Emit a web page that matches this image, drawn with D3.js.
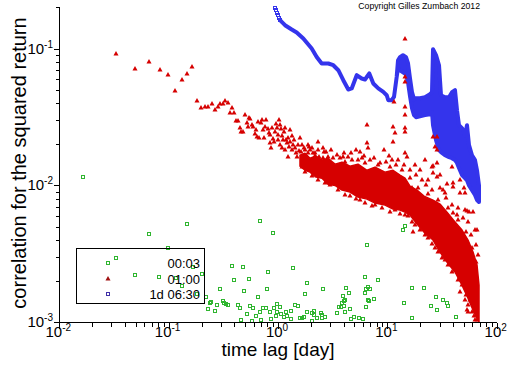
<!DOCTYPE html>
<html><head><meta charset="utf-8">
<script src="https://cdn.jsdelivr.net/npm/d3@7"></script>
<style>body{margin:0;background:#fff}svg{display:block}text{font-family:"Liberation Sans",Arial,sans-serif}</style>
</head><body><svg id="c" width="512" height="366"></svg>
<script>
// ---- data (time lag in days, correlation) ----
const xTickExp = [-2, -1, 0, 1, 2];
const yTickExp = [-3, -2, -1];
const legendLabels = ["00:03", "01:00", "1d 06:30"];

const greenPts = [[0.0165,0.0115],[0.147,0.00522],[0.0661,0.00441],[0.685,0.00549],[0.900,0.00449],[0.0987,0.00349],[0.0330,0.00295],[0.167,0.00253],[0.0492,0.00221],[0.0816,0.00214],[0.117,0.00211],[0.202,0.00225],[0.1325,0.00184],[0.182,0.00161],[0.220,0.00153],[0.244,0.00141],[0.277,0.00134],[0.314,0.00143],[0.335,0.00136],[0.349,0.00134],[0.380,0.00258],[0.479,0.00253],[0.396,0.00204],[0.543,0.00207],[0.295,0.00175],[0.489,0.00169],[0.656,0.00153],[0.810,0.00233],[0.793,0.00175],[1.371,0.00249],[1.841,0.00194],[1.766,0.00161],[0.431,0.00134],[0.449,0.00127],[0.555,0.00132],[0.591,0.00127],[0.729,0.00127],[0.777,0.00127],[0.979,0.00136],[1.043,0.00129],[0.919,0.00127],[1.430,0.00134],[1.524,0.00132],[0.229,0.00125],[0.265,0.00121],[0.685,0.00119],[0.521,0.00115],[0.629,0.00111],[0.459,0.00104],[0.578,0.00102],[0.699,0.00104],[0.845,0.00119],[0.979,0.00119],[1.065,0.00115],[0.959,0.00111],[0.863,0.00106],[1.184,0.00119],[1.209,0.00111],[1.135,0.00109],[1.315,0.00121],[1.315,0.00106],[1.589,0.00107],[1.658,0.00107],[1.729,0.00109],[1.841,0.00119],[2.046,0.00117],[2.134,0.00121],[2.134,0.00113],[2.046,0.00102],[2.473,0.00117],[2.526,0.00113],[2.526,0.00107],[2.691,0.00109],[2.273,0.00107],[2.579,0.00175],[3.464,0.00117],[3.613,0.00129],[3.768,0.00129],[3.848,0.00138],[4.013,0.00143],[4.099,0.00119],[4.187,0.00178],[4.461,0.00164],[3.930,0.00156],[4.099,0.00145],[4.013,0.00132],[4.554,0.00125],[4.955,0.00109],[5.505,0.00107],[5.988,0.00106],[4.651,0.00106],[6.379,0.00129],[6.795,0.00143],[6.246,0.00214],[8.215,0.00204],[6.652,0.00181],[6.938,0.00175],[6.379,0.00175],[6.246,0.00164],[6.652,0.00145],[7.549,0.00148],[14.50,0.00504],[13.90,0.00472],[6.514,0.00367],[16.80,0.00178],[21.63,0.00178],[14.20,0.00138],[27.87,0.00153],[32.29,0.00145],[35.12,0.00138],[35.86,0.00132],[25.07,0.00132],[28.46,0.00123],[16.80,0.00107],[42.45,0.00109],[0.239,0.00138],[0.321,0.00138]];

const redPts = [[0.033,0.0909],[0.0495,0.0706],[0.066,0.0794],[0.0825,0.0694],[0.099,0.0638],[0.1155,0.0488],[0.132,0.0587],[0.1485,0.0649],[0.165,0.0730],[0.1815,0.0412],[0.198,0.0367],[0.2145,0.0373],[0.231,0.0373],[0.2475,0.0392],[0.264,0.0354],[0.2805,0.0373],[0.297,0.0392],[0.3135,0.0392],[0.33,0.0412],[0.3465,0.0399],[0.363,0.0337],[0.3795,0.0367],[0.396,0.0337],[0.4125,0.0295],[0.429,0.0295],[0.4455,0.0262],[0.462,0.0245],[0.4785,0.0245],
[0.521,0.0285],[0.532,0.0266],[0.543,0.0310],[0.555,0.0305],[0.591,0.0266],[0.616,0.0237],[0.643,0.0225],[0.670,0.0221],[0.699,0.0285],[0.714,0.0300],[0.729,0.0253],[0.777,0.0300],[0.810,0.0258],[0.827,0.0241],[0.845,0.0204],[0.863,0.0187],[0.900,0.0218],[0.919,0.0207],[0.959,0.0280],[0.979,0.0262],[1.0,0.0233],[1.043,0.0275],[1.065,0.0258],[1.043,0.0197],[1.088,0.0187],[1.111,0.0214],[1.135,0.0245],[1.184,0.0214],[1.209,0.0204],[1.235,0.0161],[1.261,0.0190],[1.343,0.0229],[1.343,0.0181],[1.371,0.0197],[1.461,0.0172],[1.492,0.0161],[1.556,0.0178],[1.589,0.0221],[1.658,0.0197],[1.658,0.0136],[1.693,0.0146],[1.841,0.0141],[1.881,0.0197],[1.920,0.0190],[1.881,0.0172],[2.090,0.0172],[2.180,0.0164],[2.322,0.0207],[2.371,0.0161],[2.526,0.0148],[2.579,0.0187],[2.579,0.0158],[2.634,0.0175],[3.184,0.0158],[4.013,0.0172],[3.930,0.0161],[4.099,0.0148],[5.168,0.0181],[5.864,0.0158],[8.568,0.0146],[9.321,0.0181],[10.35,0.0164],[12.52,0.0153],[17.89,0.0141],[19.89,0.0129],[22.10,0.0153],[23.53,0.0109],[30.30,0.0119],[32.29,0.00924],[16.80,0.00956],
[0.499,0.0326],[0.578,0.0275],[0.629,0.0253],[0.761,0.0266],[0.845,0.0233],[0.881,0.0262],[0.939,0.0245],[1.0,0.0214],[1.088,0.0229],[1.159,0.0181],[1.234,0.0221],[1.288,0.0207],[1.401,0.0214],[1.430,0.0187],[1.524,0.0197],[1.623,0.0175],[1.729,0.0187],[1.803,0.0158],[1.962,0.0181],[2.004,0.0148],[1.159,0.0262],[1.021,0.0300],[1.288,0.0253],[0.656,0.0290],[0.745,0.0221],
[6.514,0.0275],[11.27,0.0266],[11.75,0.0241],[11.27,0.0207],[6.514,0.0204],[6.652,0.0187],[5.622,0.0175],[14.50,0.117],[11.50,0.0406],[14.50,0.0617],[14.50,0.0568],[14.50,0.0373],[14.50,0.0326],[14.50,0.0262],[14.50,0.0245],[14.50,0.0172],[15.12,0.0161],[26.16,0.0225],[28.46,0.0225],[27.29,0.0190],[28.46,0.0181],[25.60,0.0136],[26.16,0.0123],[28.46,0.0115],[39.01,0.0136],[39.84,0.0104],[46.17,0.0109],[51.30,0.00879],[33.67,0.00879],[28.46,0.0146],[26.16,0.0138],[50.23,0.00956],[46.17,0.00879],[35.12,0.0102],[39.84,0.00972],[53.51,0.00649],[60.72,0.00638],[63.33,0.00472],[66.06,0.00472],[39.84,0.00628],[43.36,0.00607],[51.30,0.00660],[55.82,0.00638],[17.17,0.00456],[46.17,0.00166],[51.30,0.00145],[53.51,0.00123],[54.65,0.00119],
[2.989,0.0100],[4.099,0.00850],[5.622,0.00781],[7.711,0.00718],[11.75,0.00660],[14.50,0.00607],[17.89,0.00513],[22.10,0.00434],[27.29,0.00349],[33.67,0.00285],[41.56,0.00241],[48.16,0.00187],[57.00,0.00145],[62.01,0.00111],[66.06,0.00104],
[1.766,0.0181],[2.180,0.0172],[2.866,0.0161],[3.690,0.0158],[4.750,0.0153],[6.246,0.0146],[8.215,0.0141],[10.57,0.0136],[13.61,0.0129],[16.11,0.0113],[19.07,0.00956],[23.53,0.00864],[29.07,0.00781],[35.86,0.00683],[44.28,0.00558],[52.40,0.00456],[59.45,0.00349],[64.68,0.00275],
[2.046,0.0187],[2.322,0.0181],[2.747,0.0175],[3.052,0.0181],[3.464,0.0166],[4.365,0.0161],[4.651,0.0172],[5.391,0.0153],[6.116,0.0164],[6.938,0.0153],[7.549,0.0158],[9.721,0.0148],[11.03,0.0153],[12.00,0.0141],[14.20,0.0141],[16.11,0.0129],[18.28,0.0119],[20.75,0.0109],[22.57,0.0100],[25.60,0.00924],[30.30,0.00956],[34.39,0.00808],[39.01,0.00718],[44.28,0.00683],[49.18,0.00577],[54.65,0.0054],[58.21,0.00434],[64.68,0.00367],[67.45,0.0031],
[1.766,0.0125],[2.046,0.0117],[2.322,0.0109],[2.691,0.0104],[3.538,0.00924],[4.554,0.00835],[5.168,0.00794],[6.246,0.00743],[7.237,0.00706],[8.935,0.00683],[10.57,0.00638],[13.05,0.00617],[15.45,0.00597],[16.80,0.0054],[19.89,0.00472],[23.53,0.00412],[25.60,0.00373],[29.07,0.00326],[31.61,0.00295],[35.86,0.00262],[39.01,0.00233],[44.28,0.00204],[52.40,0.00158],[54.65,0.00134],[59.45,0.00119],[63.33,0.00104]];

// dense part of the 01:00 cloud: [lag, upper corr, lower corr]
const redBand = [[1.589,0.0166,0.0138],[1.766,0.0172,0.0129],[1.962,0.0158,0.0125],[2.226,0.0164,0.0115],[2.526,0.0153,0.0113],[2.866,0.0158,0.0102],[3.321,0.0143,0.0100],[3.848,0.0148,0.00924],[4.554,0.0138,0.00894],[5.391,0.0143,0.00821],[6.514,0.0129,0.00794],[7.711,0.0136,0.00743],[9.517,0.0125,0.00718],[11.27,0.0129,0.00671],[13.05,0.0119,0.0066],[14.50,0.0113,0.00638],[16.11,0.00988,0.00607],[18.67,0.00924,0.00522],[21.63,0.00835,0.00456],[26.16,0.00781,0.00399],[30.30,0.0073,0.00326],[35.12,0.00638,0.00275],[41.56,0.0054,0.00233],[48.16,0.00472,0.00187],[54.65,0.00399,0.0015],[60.72,0.00326,0.00123],[66.06,0.00262,0.00107],[68.89,0.00187,0.001]];

// 1d 06:30 series: first samples, then curve [lag, upper corr, lower corr]
const blueHead = [[0.9388,0.199],[0.9587,0.1904],[0.973,0.1832],[0.9937,0.1750],[1.021,0.1684],[1.043,0.1628]];
const blueBand = [[1.043,0.1628,0.1628],[1.059,0.1591,0.1591],[1.159,0.148,0.148],[1.335,0.1376,0.1376],[1.483,0.1309,0.1309],[1.704,0.1183,0.1183],[2.033,0.100,0.100],[2.259,0.0868,0.0868],[2.510,0.0777,0.0777],[2.884,0.0777,0.0777],[3.204,0.0755,0.0755],[3.560,0.0694,0.0694],[3.955,0.0587,0.0587],[4.395,0.0502,0.0502],[4.721,0.0511,0.0511],[5.245,0.0638,0.0638],[5.828,0.0604,0.0604],[6.246,0.0594,0.0594],[6.838,0.0657,0.0657],[7.439,0.0555,0.0555],[8.264,0.0511,0.0511],[9.183,0.0482,0.0482],[9.865,0.0456,0.0456],[10.20,0.0419,0.0419],[10.96,0.0419,0.0419],[11.50,0.0443,0.0443],[12.17,0.0620,0.0620],
[12.52,0.0821,0.0718],[13.05,0.0864,0.0694],[13.90,0.0894,0.0671],[14.81,0.0864,0.0649],[15.45,0.0781,0.0568],[16.11,0.0607,0.0449],[16.80,0.0480,0.0367],[17.53,0.0427,0.0326],[18.28,0.0434,0.0315],[19.89,0.0434,0.0320],[22.10,0.0441,0.0326],[24.55,0.0464,0.0331],[25.60,0.0480,0.0343],[26.16,0.0988,0.0275],[27.87,0.0894,0.0214],[29.68,0.0755,0.0181],[30.95,0.0456,0.0175],[33.67,0.0441,0.0166],[36.63,0.0441,0.0161],[39.01,0.0480,0.0158],[41.56,0.0496,0.0153],[43.36,0.0354,0.0146],[45.21,0.0275,0.0134],[48.16,0.0262,0.0119],[51.30,0.0233,0.0113],[53.51,0.0275,0.0109],[55.82,0.0197,0.0100],[59.45,0.0166,0.00924],[63.33,0.0153,0.0085],[66.06,0.0129,0.00781],[68.89,0.0100,0.00755]];

// ---- drawing ----
const GREEN = "#2fb52f", RED = "#d60000", BLUE = "#3434ec";
const svg = d3.select("#c");
const x = d3.scaleLog().domain([0.01, 100]).range([59.3, 496.7]);
const y = d3.scaleLog().domain([0.001, 0.2]).range([322.3, 7.3]);
const px = v => Math.round(x(v)), py = v => Math.round(y(v));

svg.append("defs").append("clipPath").attr("id", "clip")
  .append("rect").attr("x", 59).attr("y", 5).attr("width", 440).attr("height", 318);
const plot = svg.append("g").attr("clip-path", "url(#clip)");

// green 00:03
plot.append("g").selectAll("rect").data(greenPts).join("rect")
  .attr("x", d => px(d[0]) - 1.5).attr("y", d => py(d[1]) - 1.5)
  .attr("width", 3).attr("height", 3)
  .attr("fill", "none").attr("stroke", GREEN).attr("stroke-width", 1);

// blue 1d 06:30
const blueArea = d3.area().x(d => x(d[0])).y1(d => y(d[1])).y0(d => y(d[2]));
plot.append("path").datum(blueBand).attr("d", blueArea)
  .attr("fill", BLUE).attr("stroke", BLUE).attr("stroke-width", 4)
  .attr("stroke-linejoin", "round");
plot.append("g").selectAll("rect").data(blueHead).join("rect")
  .attr("x", d => px(d[0]) - 1.5).attr("y", d => py(d[1]) - 1.5)
  .attr("width", 3).attr("height", 3)
  .attr("fill", "none").attr("stroke", BLUE).attr("stroke-width", 1);

// red 01:00
const redArea = d3.area().x(d => x(d[0])).y1(d => y(d[1])).y0(d => y(d[2]));
plot.append("path").datum(redBand).attr("d", redArea)
  .attr("fill", RED).attr("stroke", RED).attr("stroke-width", 1.5).attr("stroke-linejoin", "round");
const tri = d3.symbol(d3.symbolTriangle).size(11);
plot.append("g").selectAll("path").data(redPts).join("path")
  .attr("d", tri).attr("transform", d => `translate(${px(d[0])},${py(d[1])})`)
  .attr("fill", RED);

// axes
const ax = svg.append("g").attr("stroke", "#000").attr("stroke-width", 1).attr("shape-rendering", "crispEdges");
ax.append("line").attr("x1", 59.5).attr("x2", 59.5).attr("y1", y(0.2)).attr("y2", 322.5);
ax.append("line").attr("x1", 59).attr("x2", 497).attr("y1", 322.5).attr("y2", 322.5);
const xMinor = [], yMinor = [];
xTickExp.slice(0, -1).forEach(e => { for (let m = 2; m <= 9; m++) xMinor.push(m * Math.pow(10, e)); });
yTickExp.forEach(e => { for (let m = 2; m <= 9; m++) { const v = m * Math.pow(10, e); if (v <= 0.2 + 1e-9) yMinor.push(v); } });
const xMajor = xTickExp.map(e => Math.pow(10, e)), yMajor = yTickExp.map(e => Math.pow(10, e));
ax.selectAll(".xt").data(xMajor.map(v => [v, 6]).concat(xMinor.map(v => [v, 4]))).join("line")
  .attr("x1", d => px(d[0]) + 0.5).attr("x2", d => px(d[0]) + 0.5)
  .attr("y1", 322.5).attr("y2", d => 322.5 + d[1]);
ax.selectAll(".yt").data(yMajor.map(v => [v, 6]).concat(yMinor.map(v => [v, 4]))).join("line")
  .attr("y1", d => py(d[0]) + 0.5).attr("y2", d => py(d[0]) + 0.5)
  .attr("x1", 59.5).attr("x2", d => 59.5 - d[1]);

// tick labels
const xl = svg.append("g").selectAll("text").data(xTickExp).join("text")
  .attr("x", e => x(Math.pow(10, e)) - 1).attr("y", 337)
  .attr("text-anchor", "middle").attr("font-size", 15);
xl.append("tspan").text("10");
xl.append("tspan").attr("dy", -6).attr("font-size", 10).text(e => e < 0 ? "-" + (-e) : e);
const yl = svg.append("g").selectAll("text").data(yTickExp).join("text")
  .attr("x", 53).attr("y", e => y(Math.pow(10, e)) + 5)
  .attr("text-anchor", "end").attr("font-size", 15);
yl.append("tspan").text("10");
yl.append("tspan").attr("dy", -6).attr("font-size", 10).text(e => "-" + (-e));

// titles
svg.append("text").attr("x", 278).attr("y", 356).attr("text-anchor", "middle")
  .attr("font-size", 19).text("time lag  [day]");
svg.append("text").attr("transform", "translate(26,163) rotate(-90)").attr("text-anchor", "middle")
  .attr("font-size", 20).text("correlation for the squared return");
svg.append("text").attr("x", 480).attr("y", 9).attr("text-anchor", "end")
  .attr("font-size", 8.7).text("Copyright Gilles Zumbach 2012");

// legend
const lg = svg.append("g");
lg.append("rect").attr("x", 76.5).attr("y", 248.5).attr("width", 128).attr("height", 55)
  .attr("fill", "none").attr("stroke", "#000").attr("shape-rendering", "crispEdges");
const rows = [263, 279, 294];
lg.append("rect").attr("x", 106.5).attr("y", rows[0] - 1.5).attr("width", 3).attr("height", 3).attr("fill", "none").attr("stroke", GREEN);
lg.append("path").attr("d", tri).attr("transform", `translate(108,${rows[1]})`).attr("fill", "#a01010");
lg.append("rect").attr("x", 106.5).attr("y", rows[2] - 1.5).attr("width", 3).attr("height", 3).attr("fill", "none").attr("stroke", "#4030a8");
lg.selectAll(".lt").data(legendLabels).join("text")
  .attr("x", 200).attr("y", (d, i) => rows[i] + 5).attr("text-anchor", "end")
  .attr("font-size", 13).text(d => d);
</script></body></html>
